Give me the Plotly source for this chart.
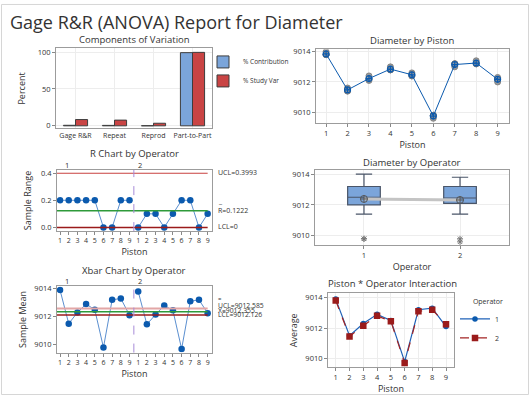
import plotly.graph_objects as go
import numpy as np

W, H = 531, 398

# ---------------- data ----------------
sources = ["Gage R&R", "Repeat", "Reprod", "Part-to-Part"]
pct_contribution = [0.72, 0.60, 0.12, 99.28]
pct_study_var = [8.5, 7.75, 3.5, 99.64]

pistons = [1, 2, 3, 4, 5, 6, 7, 8, 9]
op1_trial1 = [9013.8, 9011.4, 9012.2, 9012.8, 9012.4, 9009.8, 9013.2, 9013.2, 9012.0]
op1_trial2 = [9014.0, 9011.6, 9012.4, 9013.0, 9012.6, 9009.8, 9013.2, 9013.4, 9012.2]
op2_trial1 = [9013.8, 9011.4, 9012.1, 9012.8, 9012.4, 9009.6, 9013.0, 9013.2, 9012.2]
op2_trial2 = [9013.8, 9011.5, 9012.2, 9012.8, 9012.5, 9009.8, 9013.2, 9013.2, 9012.3]
operators = ["1", "2"]
piston_ticktext = ["1", "2", "3", "4", "5", "6", "7", "8", "9"] * 2

r_ucl, r_bar, r_lcl = 0.3993, 0.1222, 0.0
x_ucl, x_bar, x_lcl = 9012.585, 9012.355, 9012.126

# ---------------- derived ----------------
o1 = np.array([op1_trial1, op1_trial2])
o2 = np.array([op2_trial1, op2_trial2])
op1_mean = o1.mean(axis=0)
op2_mean = o2.mean(axis=0)
op1_range = o1.max(axis=0) - o1.min(axis=0)
op2_range = o2.max(axis=0) - o2.min(axis=0)
piston_mean = (o1.sum(axis=0) + o2.sum(axis=0)) / 4
seq1 = list(range(1, 10))
seq2 = list(range(10, 19))

FONT = "Open Sans"
TXT = "#333333"
BLUE = "#0B5AAE"
LBLUE = "#5B8FD0"
RED = "#C8413F"
DRED = "#9A1B1B"
GREEN = "#2E9A3A"
FRAME = "#9C9C9C"
GRID = "#EDEDED"


def px(x):
    return x / W


def py(y):
    return 1 - y / H


def dom(x0, x1, y0, y1):
    return [px(x0), px(x1)], [py(y1), py(y0)]


fig = go.Figure()

# 1. Components of variation
fig.add_trace(go.Bar(x=sources, y=pct_contribution, name="% Contribution",
                     marker=dict(color="#7BA5DA", line=dict(color="#3D3D3D", width=1)),
                     xaxis="x", yaxis="y", legend="legend"))
fig.add_trace(go.Bar(x=sources, y=pct_study_var, name="% Study Var",
                     marker=dict(color="#C94444", line=dict(color="#3D3D3D", width=1)),
                     xaxis="x", yaxis="y", legend="legend"))

# 2. Diameter by Piston
all_x = pistons * 4
all_y = list(op1_trial1) + list(op1_trial2) + list(op2_trial1) + list(op2_trial2)
fig.add_trace(go.Scatter(x=all_x, y=all_y, mode="markers", showlegend=False,
                         marker=dict(symbol="circle", size=6, color="#9A9A9A",
                                     line=dict(color="#777777", width=0.8)),
                         xaxis="x2", yaxis="y2"))
fig.add_trace(go.Scatter(x=pistons, y=piston_mean, mode="lines+markers", showlegend=False,
                         line=dict(color=BLUE, width=1),
                         marker=dict(symbol="circle-cross-open", size=6, color=BLUE,
                                     line=dict(width=1.2)),
                         xaxis="x2", yaxis="y2"))

# 3. R chart
for seq, rng in ((seq1, op1_range), (seq2, op2_range)):
    fig.add_trace(go.Scatter(x=seq, y=rng, mode="lines+markers", showlegend=False,
                             line=dict(color=LBLUE, width=1),
                             marker=dict(symbol="circle", size=6.5, color=BLUE),
                             xaxis="x3", yaxis="y3"))

# 4. Diameter by Operator
for i, (op, data) in enumerate(((1, o1), (2, o2))):
    fig.add_trace(go.Box(x=[op] * data.size, y=data.flatten(), showlegend=False,
                         width=0.34, boxpoints="outliers", quartilemethod="exclusive",
                         fillcolor="#7BA5DA", line=dict(color="#4A5568", width=1.2),
                         marker=dict(symbol="asterisk-open", size=5, color="#777777",
                                     line=dict(color="#777777", width=1)),
                         xaxis="x4", yaxis="y4"))
fig.add_trace(go.Scatter(x=[1, 2], y=[o1.mean(), o2.mean()], mode="lines+markers",
                         showlegend=False, line=dict(color="#C4C4C4", width=3),
                         marker=dict(symbol="circle-cross-open", size=7, color="#555555",
                                     line=dict(width=1)),
                         xaxis="x4", yaxis="y4"))

# 5. Xbar chart
for seq, mn in ((seq1, op1_mean), (seq2, op2_mean)):
    fig.add_trace(go.Scatter(x=seq, y=mn, mode="lines+markers", showlegend=False,
                             line=dict(color=LBLUE, width=1),
                             marker=dict(symbol="circle", size=6.5, color=BLUE),
                             xaxis="x5", yaxis="y5"))

# 6. Interaction
fig.add_trace(go.Scatter(x=pistons, y=op1_mean, mode="lines+markers", name=operators[0],
                         line=dict(color="#1F62B8", width=1.2),
                         marker=dict(symbol="circle", size=5.5, color="#0B5AAE"),
                         xaxis="x6", yaxis="y6", legend="legend2"))
fig.add_trace(go.Scatter(x=pistons, y=op2_mean, mode="lines+markers", name=operators[1],
                         line=dict(color="#A32424", width=1.2, dash="dash"),
                         marker=dict(symbol="square", size=6.5, color="#9A1B1B"),
                         xaxis="x6", yaxis="y6", legend="legend2"))


def ax(domain, **kw):
    d = dict(domain=domain, showline=True, linecolor=FRAME, linewidth=1, mirror=True,
             ticks="outside", ticklen=3, tickcolor="#888888", showgrid=True,
             gridcolor=GRID, zeroline=False, tickfont=dict(size=7.5, color=TXT),
             title_font=dict(size=9, color=TXT))
    d.update(kw)
    return d


dx1, dy1 = dom(56, 212, 46, 127)
dx2, dy2 = dom(316, 509, 47, 122)
dx3, dy3 = dom(57, 212, 169, 231)
dx4, dy4 = dom(315, 509, 169, 245)
dx5, dy5 = dom(57, 212, 287, 354)
dx6, dy6 = dom(328, 454, 294, 369)

fig.update_layout(
    width=W, height=H, margin=dict(l=0, r=0, t=0, b=0),
    paper_bgcolor="white", plot_bgcolor="white",
    font=dict(family=FONT, color=TXT, size=8),
    barmode="group", bargap=0.38, bargroupgap=0,
    xaxis=ax(dx1, anchor="y", type="category", ticks="", tickfont=dict(size=7, color=TXT)),
    yaxis=ax(dy1, anchor="x", range=[-3.5, 105], tickvals=[0, 50, 100],
             title=dict(text="Percent", standoff=10), showgrid=True),
    xaxis2=ax(dx2, anchor="y2", range=[0.53, 9.53], tickvals=pistons,
              title=dict(text="Piston", standoff=3)),
    yaxis2=ax(dy2, anchor="x2", range=[9009.26, 9014.15], tickvals=[9010, 9012, 9014]),
    xaxis3=ax(dx3, anchor="y3", range=[0.65, 18.5], tickvals=seq1 + seq2,
              ticktext=piston_ticktext, showgrid=False, tickfont=dict(size=7, color=TXT),
              title=dict(text="Piston", standoff=4)),
    yaxis3=ax(dy3, anchor="x3", range=[-0.027, 0.424], tickvals=[0, 0.2, 0.4],
              tickformat=".1f", showgrid=False,
              title=dict(text="Sample Range", standoff=7)),
    xaxis4=ax(dx4, anchor="y4", range=[0.49, 2.51], tickvals=[1, 2],
              title=dict(text="Operator", standoff=4)),
    yaxis4=ax(dy4, anchor="x4", range=[9009.4, 9014.28], tickvals=[9010, 9012, 9014]),
    xaxis5=ax(dx5, anchor="y5", range=[0.65, 18.5], tickvals=seq1 + seq2,
              ticktext=piston_ticktext, showgrid=False, tickfont=dict(size=7, color=TXT),
              title=dict(text="Piston", standoff=4)),
    yaxis5=ax(dy5, anchor="x5", range=[9009.44, 9014.16], tickvals=[9010, 9012, 9014],
              showgrid=False, title=dict(text="Sample Mean", standoff=6)),
    xaxis6=ax(dx6, anchor="y6", range=[0.44, 9.58], tickvals=pistons,
              title=dict(text="Piston", standoff=4)),
    yaxis6=ax(dy6, anchor="x6", range=[9009.42, 9014.28], tickvals=[9010, 9012, 9014],
              title=dict(text="Average", standoff=6)),
    legend=dict(x=px(203), y=py(45), xanchor="left", yanchor="top",
                font=dict(size=6.5, color=TXT), bgcolor="rgba(0,0,0,0)",
                itemwidth=30, tracegroupgap=0),
    legend2=dict(x=px(455), y=py(296), xanchor="left", yanchor="top",
                 font=dict(size=7, color=TXT), bgcolor="rgba(0,0,0,0)",
                 title=dict(text="Operator", font=dict(size=7, color=TXT), side="top right"),
                 itemwidth=30),
    showlegend=True,
)

ann = []


def note(x, y, text, size=9.5, xanchor="center", xref="paper", yref="paper", **kw):
    ann.append(dict(x=x, y=y, xref=xref, yref=yref, text=text, showarrow=False,
                    xanchor=xanchor, yanchor="middle", font=dict(size=size, color=TXT), **kw))


note(px(8), py(19), "Gage R&R (ANOVA) Report for Diameter", size=18, xanchor="left")
note(px(134), py(37), "Components of Variation")
note(px(412), py(37.5), "Diameter by Piston")
note(px(134), py(152.5), "R Chart by Operator")
note(px(412), py(161.5), "Diameter by Operator")
note(px(134), py(270.5), "Xbar Chart by Operator")
note(px(392), py(284.5), "Piston * Operator Interaction")

# operator group labels
for yy in (164, 281.5):
    note(px(67), py(yy), operators[0], size=7.5)
    note(px(140), py(yy), operators[1], size=7.5)

# R chart limit labels
note(px(216), py(172), "UCL=0.3993", size=7, xanchor="left")
note(px(216), py(201), "_", size=7, xanchor="left")
note(px(216), py(210), "R=0.1222", size=7, xanchor="left")
note(px(216), py(226), "LCL=0", size=7, xanchor="left")
# Xbar chart limit labels
note(px(216), py(300), "=", size=6, xanchor="left")
note(px(216), py(306.5), "UCL=9012.585", size=6.8, xanchor="left")
note(px(216), py(311), "X=9012.355", size=6.8, xanchor="left")
note(px(216), py(315.5), "LCL=9012.126", size=6.8, xanchor="left")

fig.update_layout(annotations=ann)

shapes = []
# R chart lines
shapes.append(dict(type="line", xref="x3", yref="y3", x0=0.65, x1=18, y0=r_ucl, y1=r_ucl,
                   line=dict(color=RED, width=1.2)))
shapes.append(dict(type="line", xref="x3", yref="y3", x0=0.65, x1=18, y0=r_bar, y1=r_bar,
                   line=dict(color=GREEN, width=1.5)))
shapes.append(dict(type="line", xref="x3", yref="y3", x0=0.65, x1=18, y0=r_lcl, y1=r_lcl,
                   line=dict(color=DRED, width=1.5)))
shapes.append(dict(type="line", xref="x3", yref="y3 domain", x0=9.5, x1=9.5, y0=0, y1=1,
                   line=dict(color="#A78BD8", width=1, dash="dash")))
# Xbar chart lines
shapes.append(dict(type="line", xref="x5", yref="y5", x0=0.65, x1=18, y0=x_ucl, y1=x_ucl,
                   line=dict(color="#E2A6A6", width=2)))
shapes.append(dict(type="line", xref="x5", yref="y5", x0=0.65, x1=18, y0=x_bar, y1=x_bar,
                   line=dict(color=GREEN, width=1.5)))
shapes.append(dict(type="line", xref="x5", yref="y5", x0=0.65, x1=18, y0=x_lcl, y1=x_lcl,
                   line=dict(color=DRED, width=1.5)))
shapes.append(dict(type="line", xref="x5", yref="y5 domain", x0=9.5, x1=9.5, y0=0, y1=1,
                   line=dict(color="#A78BD8", width=1, dash="dash")))
# outer frame
shapes.append(dict(type="rect", xref="paper", yref="paper", x0=px(1.5), x1=px(528.5),
                   y0=py(396.5), y1=py(1.5), line=dict(color="#D6D6D6", width=1)))
fig.update_layout(shapes=shapes)

fig.write_html("out.html", config={"displayModeBar": False},
               post_script="document.body.style.margin='0px';document.body.style.overflow='hidden';")
